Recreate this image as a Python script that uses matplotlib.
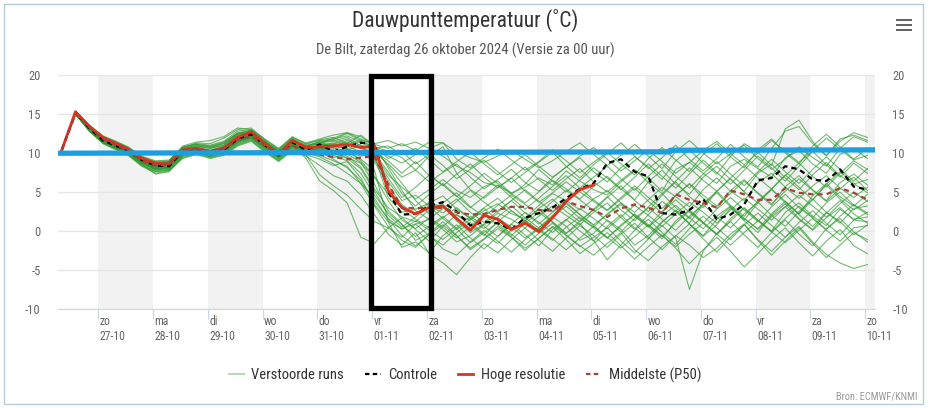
import datetime as dt
import matplotlib
matplotlib.use('Agg')
import matplotlib.pyplot as plt
import matplotlib.dates as mdates
from matplotlib.patches import Rectangle
from matplotlib.lines import Line2D
from matplotlib.transforms import ScaledTranslation

plt.rcParams['font.family'] = ['Roboto Condensed', 'DejaVu Sans']
plt.rcParams['axes.unicode_minus'] = False

title = 'Dauwpunttemperatuur (˚C)'
subtitle = 'De Bilt, zaterdag 26 oktober 2024 (Versie za 00 uur)'

day_names = ['zo', 'ma', 'di', 'wo', 'do', 'vr', 'za', 'zo', 'ma', 'di', 'wo', 'do', 'vr', 'za', 'zo']
day_dates = ['27-10', '28-10', '29-10', '30-10', '31-10', '01-11', '02-11', '03-11',
             '04-11', '05-11', '06-11', '07-11', '08-11', '09-11', '10-11']

# high resolution run (ends 05-11), 6-hourly
hres = [10.4, 15.3, 13.4, 12.0, 11.3, 10.5, 9.3, 8.7, 8.6, 10.4,
        10.6, 10.2, 10.6, 12.0, 12.7, 11.2, 9.8, 11.6, 10.7, 10.8,
        10.9, 11.1, 10.7, 10.9, 5.2, 3.0, 2.2, 3.0, 3.2, 1.6,
        0.1, 2.0, 1.5, 0.2, 1.0, -0.1, 1.7, 3.8, 5.3, 5.9]

control = [10.4, 15.2, 13.2, 11.6, 11.0, 10.3, 9.1, 8.4, 8.3, 10.3,
           10.5, 10.0, 10.4, 11.8, 12.4, 11.0, 9.7, 11.4, 10.4, 11.1,
           10.2, 10.8, 11.3, 11.2, 5.0, 2.1, 2.2, 3.2, 3.7, 2.5,
           0.7, 1.2, 1.0, 0.2, 1.7, 2.3, 3.0, 4.2, 5.4, 6.1,
           8.7, 9.2, 7.6, 7.0, 2.3, 2.1, 2.7, 4.1, 1.5, 2.1,
           3.4, 6.5, 6.8, 8.3, 7.9, 6.6, 6.4, 7.9, 5.7, 5.3]

median = [10.4, 15.0, 13.3, 11.8, 11.1, 10.3, 9.0, 8.4, 8.5, 10.3,
          10.5, 10.2, 10.6, 11.7, 12.2, 11.0, 9.9, 11.0, 10.1, 9.8,
          9.5, 9.2, 9.4, 9.6, 6.0, 3.0, 2.9, 3.0, 2.9, 2.4,
          2.1, 2.2, 2.7, 3.1, 3.1, 2.7, 2.6, 3.8, 3.2, 2.7,
          1.8, 2.9, 3.4, 3.0, 2.3, 4.7, 4.0, 3.6, 3.0, 5.2,
          4.7, 4.0, 4.0, 5.5, 4.9, 4.7, 4.7, 5.5, 4.9, 4.0]

members = [
    [10.4, 15.3, 13.5, 12.0, 11.4, 10.6, 9.4, 8.8, 8.8, 10.6, 10.9, 10.6, 11.0, 12.3, 12.6, 11.4, 10.1, 11.6, 10.9, 11.2,
     11.0, 11.4, 10.8, 10.5, 9.6, 8.7, 9.8, 10.4, 9.6, 8.3, 7.5, 6.2, 5.8, 4.9, 5.6, 6.8, 5.9, 7.7, 6.4, 5.3,
     4.6, 6.3, 7.7, 6.8, 5.1, 7.9, 8.8, 7.4, 6.1, 8.3, 9.2, 8.0, 6.9, 9.4, 10.3, 8.6, 7.4, 9.8, 10.6, 9.3],
    [10.4, 15.1, 13.0, 11.5, 10.9, 10.1, 8.8, 7.9, 8.0, 10.0, 10.3, 9.7, 10.1, 11.4, 12.1, 10.6, 9.4, 10.8, 9.7, 7.2,
     5.8, 4.6, 2.8, 1.2, 0.4, -0.8, 0.9, 1.5, 0.2, -1.4, -0.6, 0.8, 1.7, 0.5, -0.9, 0.4, 1.8, 0.6, -1.2, -0.3,
     1.4, 0.2, -1.8, -0.6, 1.2, 2.6, 0.9, -0.7, 0.8, 2.9, 1.6, 0.3, 2.2, 3.8, 2.1, 0.6, 2.4, 1.2, -0.5, 0.8],
    [10.4, 15.2, 13.4, 11.8, 11.2, 10.4, 9.2, 8.5, 8.4, 10.4, 10.6, 10.2, 10.8, 12.0, 12.4, 11.1, 9.8, 11.3, 10.5, 10.9,
     10.2, 10.6, 9.8, 9.6, 4.3, 2.4, 2.8, 3.6, 3.1, 2.0, 1.4, 2.6, 3.5, 2.2, 1.6, 3.3, 4.8, 3.9, 2.7, 4.1,
     5.2, 3.6, 2.4, 4.0, 5.6, 4.4, 3.1, 5.3, 6.8, 5.1, 3.9, 6.2, 7.4, 5.6, 4.2, 5.8, 7.1, 5.5, 4.3, 5.6],
    [10.4, 15.0, 12.9, 11.4, 10.7, 9.9, 8.6, 7.3, 7.6, 9.6, 10.1, 9.5, 10.0, 11.2, 11.8, 10.4, 9.2, 10.6, 10.0, 9.5,
     8.6, 7.4, 6.1, 3.2, 0.6, -1.2, -2.1, -0.4, 0.8, -0.6, -2.4, -1.1, 0.3, -0.8, -2.2, -1.0, 0.6, -0.5, -1.9, -3.1,
     -1.6, -0.2, -2.4, -3.8, -2.0, -0.6, -1.8, -3.4, -2.2, -0.4, 0.9, -1.1, -2.6, -0.8, 0.6, -1.4, -3.0, -4.1, -4.8, -4.3],
    [10.4, 15.3, 13.6, 12.2, 11.6, 10.8, 9.6, 9.0, 9.1, 10.8, 11.2, 11.0, 11.5, 12.8, 13.0, 11.6, 10.4, 11.9, 11.2, 11.6,
     11.8, 12.2, 11.4, 10.8, 10.2, 9.4, 7.8, 6.3, 7.5, 8.6, 6.9, 5.4, 6.6, 7.9, 6.2, 5.1, 6.8, 8.2, 9.4, 7.6,
     6.3, 8.1, 9.5, 8.2, 6.6, 9.0, 10.4, 8.7, 7.3, 9.6, 11.2, 10.1, 8.4, 13.1, 14.2, 11.5, 9.6, 11.8, 12.3, 11.6],
    [10.4, 15.1, 13.1, 11.6, 11.0, 10.2, 8.9, 8.1, 8.2, 9.8, 10.4, 10.1, 10.5, 11.9, 12.5, 11.2, 9.6, 11.2, 10.2, 10.6,
     10.4, 9.6, 8.2, 5.4, 3.0, 1.8, 1.2, 2.7, 3.4, 1.3, -0.2, 0.9, 2.3, 1.5, 0.4, 1.9, 3.2, 2.0, 0.8, 2.4,
     3.6, 1.7, 0.2, 2.1, 3.8, 2.5, 1.0, 3.4, 4.9, 3.1, 1.4, 3.6, 5.3, 3.8, 2.2, 4.5, 6.1, 4.4, 3.2, 4.7],
    [10.4, 15.2, 13.3, 11.9, 11.3, 10.5, 9.3, 8.6, 8.7, 10.5, 11.0, 10.8, 11.3, 12.6, 12.9, 11.5, 10.2, 11.8, 10.8, 11.5,
     11.7, 12.5, 11.6, 11.2, 11.6, 10.9, 11.4, 10.6, 11.3, 10.1, 9.4, 8.8, 9.6, 10.3, 9.2, 8.1, 9.0, 10.2, 11.3, 9.8,
     8.4, 9.7, 11.1, 9.6, 8.0, 10.2, 11.6, 10.0, 8.6, 9.9, 11.0, 9.3, 7.9, 9.2, 10.8, 9.4, 8.3, 10.6, 12.1, 11.4],
    [10.4, 15.0, 12.8, 11.3, 10.6, 9.8, 8.4, 7.6, 7.8, 9.4, 9.9, 9.4, 9.8, 11.0, 11.6, 10.2, 9.0, 10.4, 9.8, 9.2,
     8.4, 8.9, 6.8, 3.4, 1.2, 0.3, 0.9, -0.6, -1.8, -0.2, 1.1, -0.4, -1.6, 0.2, 1.3, 0.1, -1.2, 0.5, 1.8, 0.4,
     -0.9, 0.8, 2.1, 0.6, -1.0, 1.3, 2.7, 1.1, -0.5, 1.6, 3.0, 1.4, 0.0, 2.4, 3.6, 1.9, 0.7, 2.8, 1.5, 1.8],
    [10.4, 15.2, 13.2, 11.7, 11.1, 10.4, 9.0, 8.3, 8.6, 10.2, 10.7, 10.4, 10.9, 12.2, 12.7, 11.3, 9.9, 11.5, 10.6, 10.8,
     11.1, 10.4, 10.9, 9.8, 7.2, 5.6, 4.1, 5.3, 6.6, 5.2, 4.3, 5.7, 6.4, 4.8, 3.6, 5.0, 6.5, 5.4, 4.1, 5.7,
     7.0, 5.4, 4.0, 6.3, 7.8, 6.0, 4.7, 6.9, 8.3, 6.6, 5.1, 7.4, 8.6, 6.8, 5.3, 7.2, 8.8, 7.1, 6.0, 6.6],
    [10.4, 15.1, 13.0, 11.4, 10.8, 10.0, 8.7, 7.9, 8.1, 9.9, 10.2, 9.8, 10.3, 11.5, 12.0, 10.7, 9.5, 10.9, 9.3, 6.4,
     5.2, 3.6, -0.8, -1.6, 0.4, 1.7, 0.2, -1.3, 0.6, 2.1, 0.8, -0.6, 1.2, 2.6, 1.3, 0.1, 1.8, 3.2, 1.6, 0.5,
     2.2, 3.6, 1.9, 0.6, 2.5, 4.0, 2.4, 1.0, 2.8, 4.3, 2.7, 1.2, 3.1, 4.7, 3.0, 1.7, 3.6, 5.0, 3.3, 2.1],
    [10.4, 15.3, 13.4, 11.9, 11.2, 10.3, 9.1, 8.4, 8.5, 10.1, 10.5, 10.3, 10.7, 12.1, 12.8, 11.2, 9.7, 11.4, 10.9, 11.4,
     10.8, 11.6, 11.0, 10.5, 8.4, 6.1, 3.9, 2.2, 3.6, 4.9, 3.1, 1.8, 3.3, 4.6, 3.4, 2.1, 3.8, 5.2, 4.0, 2.6,
     4.3, 5.8, 3.9, 2.5, 4.6, 6.3, 4.4, 3.0, 5.1, 6.7, 5.0, 3.6, 5.4, 7.2, 5.6, 4.0, 6.0, 7.6, 6.1, 4.9],
    [10.4, 15.0, 12.9, 11.3, 10.7, 9.9, 8.5, 7.7, 7.9, 9.7, 10.1, 9.6, 10.1, 11.3, 11.9, 10.5, 9.3, 10.7, 10.1, 10.3,
     9.7, 9.0, 7.4, 4.6, 2.3, 0.8, -0.7, 0.6, 1.9, 0.3, -1.5, -0.2, 1.1, -0.4, -1.8, -0.3, 1.0, -0.6, -2.0, -0.8,
     0.4, -1.3, -2.8, -1.0, 0.7, -0.9, -7.5, -2.6, -0.3, 1.2, -0.5, -2.1, -0.2, 1.4, -0.4, -1.9, 0.3, 1.6, -0.1, -1.4],
    [10.4, 15.2, 13.5, 12.1, 11.5, 10.7, 9.5, 8.9, 9.0, 10.9, 11.4, 11.6, 12.1, 13.2, 13.0, 11.8, 10.6, 12.0, 11.3, 11.8,
     12.3, 12.6, 11.8, 11.1, 10.6, 11.2, 10.3, 11.4, 11.3, 9.2, 8.1, 9.4, 10.5, 9.1, 7.8, 8.9, 10.4, 9.0, 7.5, 8.8,
     10.1, 8.6, 7.2, 9.3, 10.7, 9.1, 7.6, 9.8, 11.2, 9.5, 8.1, 10.4, 11.8, 10.0, 8.6, 10.9, 12.4, 10.8, 9.2, 10.6],
    [10.4, 15.1, 13.1, 11.5, 10.9, 10.2, 8.8, 8.0, 8.2, 10.1, 10.4, 9.9, 10.3, 11.6, 12.2, 10.9, 9.6, 11.1, 10.3, 10.7,
     9.9, 10.1, 9.2, 7.8, 1.2, -2.1, -1.4, -2.8, -0.6, 0.8, -0.9, -2.3, -0.7, 0.9, -0.5, -1.9, 0.2, 1.5, 0.0, -1.3,
     0.6, 2.1, 0.4, -1.0, 1.1, 2.7, 0.9, -0.6, 1.5, 3.1, 1.3, -0.2, 2.0, 3.5, 1.6, 0.2, 2.3, 3.9, 2.2, 1.0],
    [10.4, 15.2, 13.3, 11.8, 11.0, 10.3, 9.0, 8.2, 8.3, 10.2, 10.6, 10.1, 10.5, 11.8, 12.3, 11.0, 9.8, 11.3, 10.4, 10.5,
     10.7, 10.2, 9.6, 10.1, 8.6, 6.9, 7.8, 9.6, 10.8, 7.4, 5.3, 4.2, 5.6, 6.8, 5.1, 3.7, 4.9, 6.3, 5.0, 3.8,
     2.6, 4.1, 5.5, 3.8, 2.3, 4.6, 6.0, 4.2, 2.9, 5.2, 6.6, 4.8, 3.3, 5.7, 7.1, 5.3, 3.9, 6.2, 7.3, 5.9],
    [10.4, 15.0, 12.8, 11.2, 10.5, 9.7, 8.3, 7.4, 7.7, 9.3, 9.8, 9.3, 9.7, 10.9, 11.5, 10.1, 8.9, 10.3, 9.6, 8.4,
     7.1, 6.4, 4.6, 2.1, -0.4, -1.8, -0.2, -2.9, -4.1, -5.6, -3.4, -1.6, -2.8, -1.1, 0.4, -1.2, -2.6, -0.9, 0.7, -0.6,
     -2.1, -0.4, 1.0, -0.8, -2.4, -0.6, 0.9, -1.0, -2.7, -0.8, 0.8, -1.2, -3.1, -1.3, 0.4, -1.6, -3.4, -1.8, -0.2, -1.1],
    [10.4, 15.3, 13.5, 12.0, 11.3, 10.6, 9.3, 8.7, 8.9, 10.7, 11.1, 10.9, 11.4, 12.5, 12.8, 11.4, 10.3, 11.7, 11.0, 11.3,
     11.5, 12.0, 10.9, 9.4, 6.8, 4.3, 5.6, 7.2, 5.9, 4.4, 5.8, 7.4, 6.1, 4.7, 6.0, 7.9, 6.4, 5.0, 6.5, 8.1,
     6.8, 5.3, 6.9, 8.6, 7.0, 5.5, 7.3, 9.1, 7.5, 6.0, 7.8, 9.6, 8.1, 6.4, 8.3, 10.2, 8.5, 6.9, 8.7, 7.4],
    [10.4, 15.1, 12.9, 11.4, 10.8, 10.0, 8.7, 7.8, 8.0, 9.7, 10.2, 9.7, 10.2, 11.4, 11.9, 10.6, 9.4, 10.8, 10.2, 10.0,
     9.4, 9.9, 8.8, 6.0, 2.6, 0.9, -1.2, -0.3, 1.2, -0.6, -2.2, -1.0, 0.6, -0.8, -2.5, -0.9, 0.5, -1.1, -2.9, -1.6,
     -0.2, -1.9, -3.6, -2.0, -0.5, -2.2, -4.2, -2.4, -0.8, -2.6, -4.6, -2.9, -1.1, 0.4, -1.5, -3.2, -1.3, 0.2, -1.9, -2.9],
    [10.4, 15.2, 13.2, 11.6, 11.0, 10.2, 8.9, 8.2, 8.4, 10.1, 10.5, 10.0, 10.4, 11.7, 12.3, 10.9, 9.7, 11.2, 10.3, 10.9,
     10.6, 10.9, 10.1, 8.9, 5.8, 3.4, 2.1, 3.6, 4.5, 2.8, 1.6, 3.0, 4.2, 2.6, 1.3, 2.9, 4.1, 2.5, 1.2, 2.8,
     4.4, 2.7, 1.3, 3.1, 4.8, 3.0, 1.6, 3.5, 5.1, 3.3, 1.9, 3.8, 5.4, 3.6, 2.2, 4.0, 5.9, 4.1, 2.7, 3.9],
    [10.4, 15.3, 13.6, 12.1, 11.5, 10.7, 9.5, 8.8, 8.9, 10.6, 11.3, 11.2, 11.9, 13.0, 13.2, 11.7, 10.5, 12.1, 11.1, 11.7,
     12.0, 11.2, 12.3, 10.9, 9.3, 10.2, 8.6, 9.8, 8.4, 6.7, 7.9, 9.1, 7.6, 6.2, 7.5, 8.8, 10.1, 8.3, 6.8, 8.5,
     9.9, 11.3, 9.6, 8.0, 9.4, 11.0, 9.2, 7.7, 9.3, 11.1, 9.5, 8.2, 10.6, 12.8, 13.4, 11.2, 9.7, 11.5, 12.6, 12.0],
    [10.4, 15.0, 13.0, 11.5, 10.9, 10.1, 8.8, 8.0, 8.1, 9.9, 10.3, 9.8, 10.2, 11.5, 12.0, 10.8, 9.5, 11.0, 10.1, 10.4,
     9.8, 10.5, 9.0, 7.0, 3.9, 1.4, 0.3, 1.7, 0.5, -0.9, 0.6, 2.1, 0.8, -0.6, 1.0, 2.4, 1.1, -0.3, 1.3, 2.7,
     1.3, -0.1, 1.6, 3.0, 1.5, 0.1, 1.9, 3.4, 1.8, 0.4, 2.2, 3.7, 2.0, 0.6, 2.5, 4.1, 2.4, 1.0, 2.9, 3.2],
    [10.4, 15.2, 13.4, 11.9, 11.2, 10.5, 9.2, 8.5, 8.6, 10.4, 10.8, 10.6, 11.0, 12.4, 12.6, 11.3, 10.0, 11.5, 10.7, 11.0,
     11.3, 10.8, 11.5, 10.2, 9.0, 7.4, 8.9, 7.1, 5.8, 7.3, 8.6, 6.9, 5.5, 6.8, 8.2, 6.6, 5.2, 6.7, 8.0, 6.3,
     5.0, 6.5, 7.9, 6.2, 4.8, 6.4, 8.1, 6.5, 5.1, 6.8, 8.4, 6.8, 5.4, 7.1, 8.7, 7.0, 5.6, 7.4, 9.0, 7.9],
    [10.4, 15.1, 13.1, 11.6, 11.0, 10.2, 8.9, 8.1, 8.2, 10.0, 10.4, 10.0, 10.4, 11.6, 12.2, 10.8, 9.6, 11.1, 10.2, 10.6,
     10.0, 9.3, 8.0, 5.1, 2.0, 0.5, 1.8, 3.1, 1.6, 0.2, 1.5, 2.9, 1.4, 0.0, 1.3, 2.8, 1.2, -0.3, 1.0, -1.2,
     -3.7, -1.8, 0.1, 1.5, -0.2, -1.7, 0.3, 1.9, 0.4, -1.1, 0.8, 2.3, 0.7, -0.8, 1.1, 2.6, 1.0, -0.5, 1.4, 1.2],
    [10.4, 15.2, 13.3, 11.7, 11.1, 10.4, 9.1, 8.3, 8.5, 10.3, 10.7, 10.3, 10.8, 12.0, 12.5, 11.1, 9.9, 11.4, 10.5, 11.0,
     11.2, 11.8, 10.6, 9.9, 7.6, 4.8, 3.2, 4.7, 6.1, 4.5, 3.0, 4.4, 5.9, 4.3, 2.8, 4.2, 5.7, 7.1, 5.5, 6.9,
     8.3, 6.7, 5.2, 7.0, 8.6, 7.0, 5.5, 7.3, 8.9, 7.3, 5.8, 7.6, 9.2, 7.6, 6.1, 7.9, 9.5, 7.9, 6.4, 8.0],
    [10.4, 15.1, 13.0, 11.5, 10.8, 10.1, 8.7, 7.9, 8.1, 9.9, 10.3, 9.8, 10.2, 11.5, 12.1, 10.7, 9.5, 10.9, 10.0, 10.2,
     9.2, 8.1, 6.5, 3.8, 1.6, 0.2, 1.3, 0.1, -1.1, 0.4, 1.9, 0.6, -0.7, 0.9, 2.4, 1.1, -0.2, 1.4, 2.9, 1.6,
     0.3, 1.8, 3.3, 2.0, 0.6, 2.2, 3.7, 2.4, 1.0, 2.7, 4.2, 2.8, 1.4, 3.1, 4.6, 3.2, 1.8, 3.5, 5.0, 3.8],
    [10.4, 15.3, 13.4, 11.9, 11.3, 10.5, 9.2, 8.6, 8.8, 10.5, 10.9, 10.7, 11.2, 12.4, 12.7, 11.3, 10.1, 11.6, 10.8, 11.2,
     11.9, 12.6, 12.1, 11.0, 8.1, 5.2, 2.6, 1.5, 2.9, 4.1, 2.4, 1.1, 2.6, 3.9, 2.3, 0.9, 2.4, 3.7, 2.1, 0.8,
     2.1, 3.4, 1.9, 0.5, 2.0, 3.3, 1.7, 0.3, 1.9, 3.2, 1.6, 0.2, 1.8, 3.1, 1.5, 0.1, 1.7, 3.0, 1.4, 2.4],
    [10.4, 15.2, 13.3, 11.7, 11.0, 10.3, 9.0, 8.2, 8.4, 10.2, 10.6, 10.2, 10.6, 11.9, 12.4, 11.0, 9.8, 11.3, 10.4, 10.7,
     10.3, 9.8, 10.3, 9.2, 6.4, 3.9, 4.6, 3.2, 2.3, 3.8, 5.2, 3.7, 2.4, 3.9, 5.3, 3.8, 2.5, 4.0, 5.5, 4.0,
     2.7, 4.3, 5.8, 4.3, 2.9, 4.5, 6.1, 4.6, 3.2, 4.8, 6.4, 4.9, 3.5, 5.1, 6.7, 5.2, 3.8, 5.4, 6.9, 5.2],
    [10.4, 15.0, 12.9, 11.3, 10.6, 9.8, 8.5, 7.6, 7.8, 9.5, 10.0, 9.5, 9.9, 11.1, 11.7, 10.3, 9.1, 10.5, 9.9, 9.7,
     9.0, 8.3, 6.1, 4.2, 1.5, -0.6, -1.9, -0.5, -2.3, -3.1, -1.4, 0.1, -1.3, -2.7, -1.1, 0.3, -1.0, -2.4, -0.9, 0.6,
     -0.8, -2.2, -0.7, 0.8, -0.6, -2.0, -0.4, 1.0, -0.4, -1.8, -0.2, 1.3, -0.1, -1.5, 0.1, 1.6, 0.1, -1.3, 0.4, 0.7],
    [10.4, 15.3, 13.5, 12.0, 11.4, 10.6, 9.4, 8.7, 8.9, 10.7, 11.1, 10.8, 11.2, 12.5, 12.9, 11.5, 10.3, 11.8, 10.9, 11.4,
     11.6, 11.0, 11.7, 10.6, 10.9, 9.8, 10.6, 9.1, 7.6, 8.9, 10.1, 8.6, 7.2, 8.5, 9.8, 8.3, 6.9, 8.2, 9.6, 10.7,
     9.2, 7.7, 9.0, 10.4, 8.9, 7.4, 8.8, 10.3, 11.5, 9.9, 8.5, 10.0, 11.6, 10.2, 8.8, 10.3, 11.9, 10.5, 9.1, 9.7],
    [10.4, 15.1, 13.1, 11.5, 10.9, 10.1, 8.8, 8.0, 8.2, 10.0, 10.4, 9.9, 10.3, 11.6, 12.1, 10.8, 9.6, 11.0, 10.2, 10.5,
     10.1, 9.4, 8.7, 6.9, 4.8, 2.9, 1.5, 0.4, 1.7, 3.0, 1.6, 0.3, 1.8, 3.2, 1.7, 0.4, 2.0, 3.5, 2.1, 0.7,
     -0.9, 0.6, 2.2, 0.8, -0.7, 1.0, 2.6, 1.1, -0.4, 1.3, 2.9, 1.4, -0.1, 1.6, 3.2, 1.7, 0.2, 1.9, 3.4, 2.3],
]

# hand drawn marks on the picture
blue_line_t = [dt.datetime(2024, 10, 26, 6, 20), dt.datetime(2024, 11, 6, 10, 30),
               dt.datetime(2024, 11, 6, 10, 30), dt.datetime(2024, 11, 10, 4, 20)]
blue_line_v = [9.97, 10.15, 10.35, 10.4]
box_start = dt.datetime(2024, 10, 31, 23, 30)
box_end = dt.datetime(2024, 11, 2, 1, 50)
box_low, box_high = -9.85, 19.9

# forecast steps every 6 h UTC from 26-10 06 UTC, shown in local time (CEST -> CET on 27-10)
times = []
for i in range(len(members[0])):
    t_utc = dt.datetime(2024, 10, 26, 6) + dt.timedelta(hours=6 * i)
    shift = 2 if t_utc < dt.datetime(2024, 10, 27, 1) else 1
    times.append(t_utc + dt.timedelta(hours=shift))

days = [dt.datetime(2024, 10, 27) + dt.timedelta(days=i) for i in range(len(day_names))]

fig = plt.figure(figsize=(9.3, 4.08), dpi=100)
ax = fig.add_axes([0.0624, 0.2426, 0.8785, 0.5736])

# alternating day shading
for i in range(0, len(days), 2):
    ax.axvspan(days[i], days[i] + dt.timedelta(days=1), color='#f2f2f2', lw=0, zorder=0)

for m in members:
    ax.plot(times, m, color='#2f9a2f', lw=0.8, alpha=0.68, zorder=2)
ax.plot(times, control, color='black', lw=1.6, dashes=(2.4, 1.8), zorder=3)
ax.plot(times[:len(hres)], hres, color='#e0301e', lw=2.0, zorder=4)
ax.plot(times, median, color='#a3423a', lw=1.6, dashes=(2.4, 1.8), zorder=5)

ax.plot(blue_line_t, blue_line_v, color='#1b9fe0', lw=3.8, solid_capstyle='butt', zorder=6, clip_on=False)
x0 = mdates.date2num(box_start)
x1 = mdates.date2num(box_end)
ax.add_patch(Rectangle((x0, box_low), x1 - x0, box_high - box_low, fill=False,
                       edgecolor='black', lw=3.8, zorder=7, clip_on=False))

ax.set_xlim(dt.datetime(2024, 10, 26, 6, 20), dt.datetime(2024, 11, 10, 4, 20))
ax.set_ylim(-10, 20)
ax.set_yticks(range(-10, 21, 5))
ax.grid(axis='y', color='#e6e6e6', lw=1)
ax.set_axisbelow(True)
for s in ['top', 'left', 'right']:
    ax.spines[s].set_visible(False)
ax.spines['bottom'].set_color('#ccd6eb')
ax.tick_params(axis='y', length=0, labelsize=9, labelcolor='#666666', pad=12.5,
               labelleft=True, labelright=True)

ax.set_xticks(days)
ax.set_xticklabels([f'{n}\n{d}' for n, d in zip(day_names, day_dates)], ha='left',
                   linespacing=1.2)
ax.tick_params(axis='x', length=7, color='#ccd6eb', labelsize=8.5, labelcolor='#666666', pad=-3)
offset = ScaledTranslation(1 / 72, 0, fig.dpi_scale_trans)
for lbl in ax.get_xticklabels():
    lbl.set_transform(lbl.get_transform() + offset)

fig.text(0.5, 0.95, title, ha='center', va='center', fontsize=15.5, color='#333333')
fig.text(0.5, 0.877, subtitle, ha='center', va='center', fontsize=10.5, color='#555555')

handles = [
    Line2D([], [], color='#b9d9b9', lw=1.5),
    Line2D([], [], color='black', lw=1.6, dashes=(2.0, 1.5)),
    Line2D([], [], color='#e0301e', lw=2.0),
    Line2D([], [], color='#a3423a', lw=1.6, dashes=(2.0, 1.5)),
]
labels = ['Verstoorde runs', 'Controle', 'Hoge resolutie', 'Middelste (P50)']
fig.legend(handles, labels, loc='center', bbox_to_anchor=(0.5, 0.081), ncol=4, frameon=False,
           fontsize=10.5, handlelength=1.05, handletextpad=0.5, columnspacing=1.45, labelcolor='#333333')

fig.text(0.987, 0.027, 'Bron: ECMWF/KNMI', ha='right', va='center', fontsize=7.5, color='#999999')

# export menu icon
for yy in [20, 25, 30]:
    fig.add_artist(Rectangle((896 / 930, 1 - (yy + 1.3) / 408), 16 / 930, 2.6 / 408,
                             transform=fig.transFigure, color='#666666', lw=0))
# chart border
fig.add_artist(Rectangle((0.004, 0.01), 0.9885, 0.98, transform=fig.transFigure,
                         fill=False, edgecolor='#b7ccd6', lw=1))

fig.savefig('out.png', dpi=100)
